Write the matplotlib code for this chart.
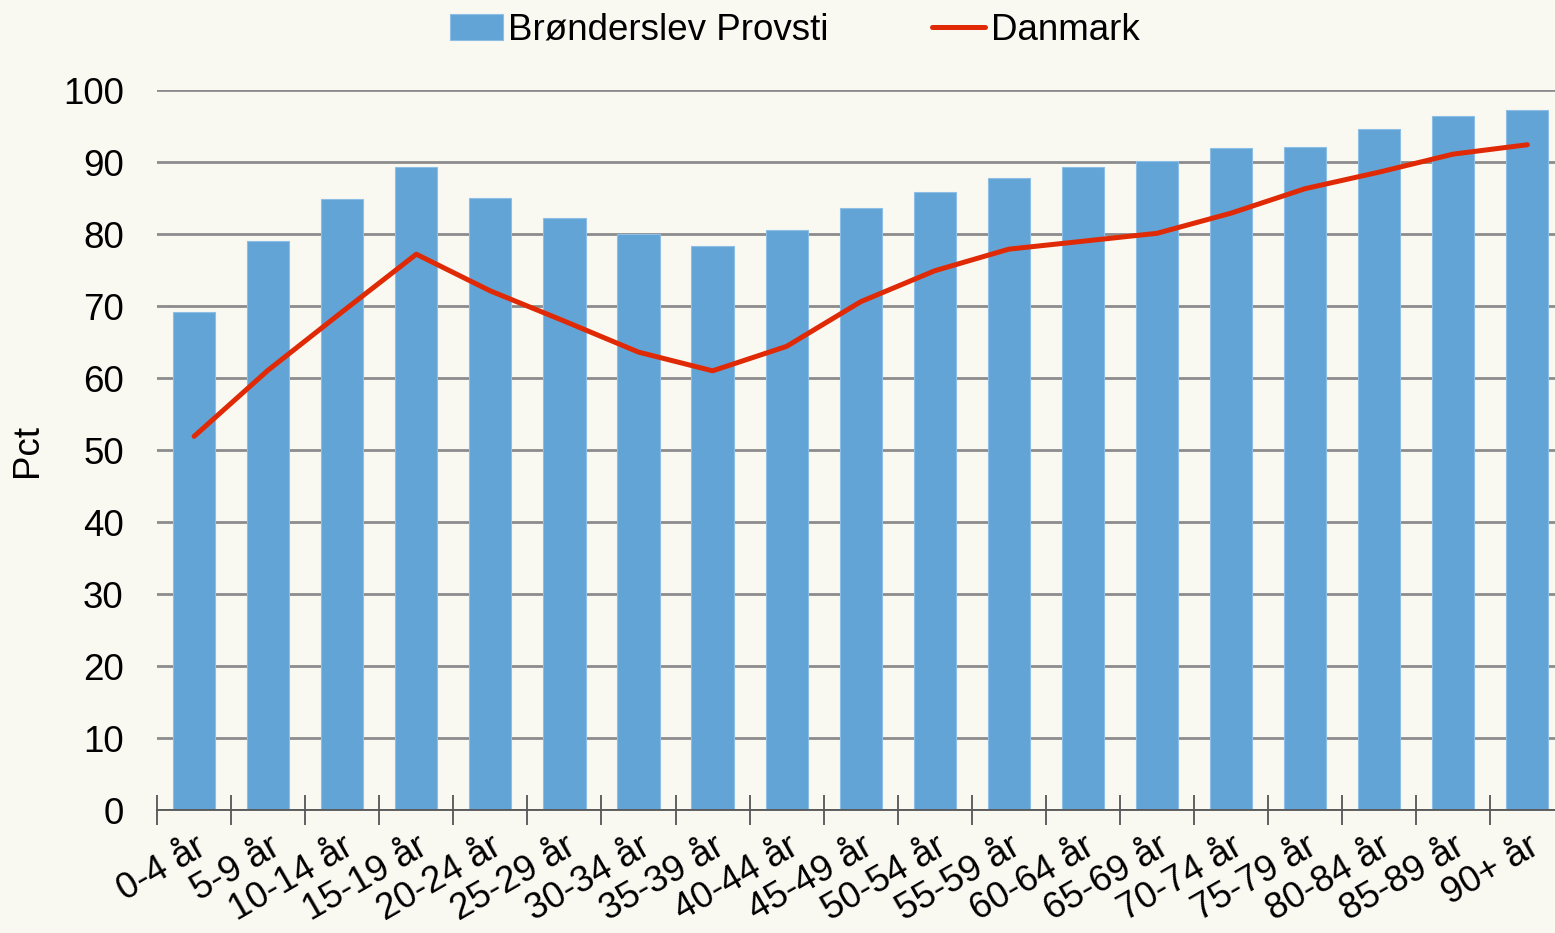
import matplotlib
matplotlib.use('Agg')
import matplotlib.pyplot as plt
import numpy as np

# --- Data ---
categories = ['0-4 år', '5-9 år', '10-14 år', '15-19 år', '20-24 år', '25-29 år',
              '30-34 år', '35-39 år', '40-44 år', '45-49 år', '50-54 år', '55-59 år',
              '60-64 år', '65-69 år', '70-74 år', '75-79 år', '80-84 år', '85-89 år',
              '90+ år']
provsti = [69.2, 79.0, 84.9, 89.3, 85.0, 82.2, 80.0, 78.3, 80.6, 83.6,
           85.8, 87.8, 89.3, 90.1, 91.9, 92.1, 94.6, 96.4, 97.2]
danmark = [51.9, 61.1, 69.2, 77.2, 72.1, 67.9, 63.6, 61.0, 64.4, 70.6,
           74.9, 77.9, 79.0, 80.1, 82.9, 86.3, 88.6, 91.1, 92.4]
yticks = list(range(0, 101, 10))

BG = '#F9F9F2'
BAR = '#62A4D6'
LINE = '#E02A06'
GRID = '#8C8C8C'
FS = 26.5

plt.rcParams['font.family'] = ['Liberation Sans', 'DejaVu Sans']

fig = plt.figure(figsize=(15.55, 9.33), dpi=100, facecolor=BG)
ax = fig.add_axes([0.101, 0.1318, 0.905, 0.7717], facecolor=BG)

x = np.arange(len(categories))
bars = ax.bar(x, provsti, width=0.57, color=BAR, edgecolor='#8DBFE6', linewidth=0.8,
              label='Brønderslev Provsti', zorder=2)
line, = ax.plot(x, danmark, color=LINE, linewidth=3.6, solid_capstyle='round',
                solid_joinstyle='round', label='Danmark', zorder=3)

ax.set_xlim(-0.5, len(categories) - 0.5)
ax.set_ylim(0, 100)
ax.set_yticks(yticks)
ax.set_yticklabels([str(v) for v in yticks], fontsize=FS)
ax.yaxis.grid(True, color=GRID, linewidth=2, zorder=0)
ax.set_axisbelow(True)
ax.tick_params(axis='y', length=0, pad=24)

# category boundary ticks
ax.set_xticks(np.arange(len(categories) + 1) - 0.5, minor=False)
ax.set_xticklabels([])
ax.tick_params(axis='x', which='major', direction='inout', length=22, width=1.3,
               color='#555555')
ax.set_xticks(x, minor=True)
ax.set_xticklabels(categories, minor=True, rotation=30, ha='right',
                   rotation_mode='anchor', fontsize=FS)
ax.tick_params(axis='x', which='minor', length=0, pad=14)

for side in ['left', 'right', 'top']:
    ax.spines[side].set_visible(False)
ax.spines['bottom'].set_color('#555555')
ax.spines['bottom'].set_linewidth(1.3)

ax.set_ylabel('Pct', fontsize=FS, va='center')
ax.yaxis.set_label_coords(-0.092, 0.5)

fig.legend([bars, line], ['Brønderslev Provsti', 'Danmark'],
           loc='upper center', bbox_to_anchor=(0.511, 1.022), ncol=2, frameon=False,
           fontsize=FS, handlelength=1.45, handletextpad=0.15, columnspacing=2.8)

plt.savefig('out.png', dpi=100, facecolor=BG)
